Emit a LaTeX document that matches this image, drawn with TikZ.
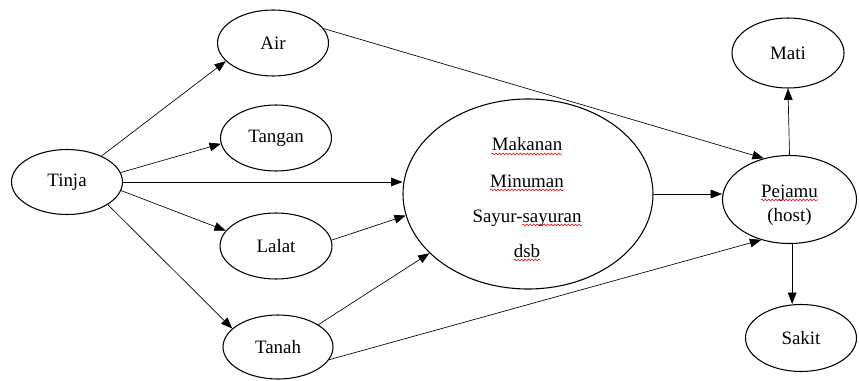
\documentclass[tikz,border=0pt]{standalone}
\usepackage{fontspec}
\setmainfont{Liberation Serif}
\usetikzlibrary{shapes.geometric,arrows.meta,decorations.pathmorphing}

\begin{document}
\begin{tikzpicture}[x=0.75pt,y=-0.75pt,
  every node/.style={font=\fontsize{14.2pt}{17pt}\selectfont},
  oval/.style={ellipse,draw,line width=0.8pt,inner sep=0pt},
  txt/.style={inner sep=0pt},
  link/.style={line width=0.5pt,-{Triangle[length=8.5pt,width=6.5pt]}},
  sq/.style={draw=red!85!black,line width=0.4pt,
    decorate,decoration={snake,segment length=2.6pt,amplitude=0.7pt}}]
\useasboundingbox (0,0) rectangle (859,381);

% source
\node[oval,minimum width=83.25pt,minimum height=48.75pt] (tinja) at (67,182) {Tinja};

% carriers
\node[oval,minimum width=83.25pt,minimum height=49.5pt] (air) at (273,43) {Air};
\node[oval,minimum width=83.25pt,minimum height=49.5pt] (tangan) at (276,138) {Tangan};
\node[oval,minimum width=84pt,minimum height=49.5pt] (lalat) at (276,246) {Lalat};
\node[oval,minimum width=82.5pt,minimum height=48pt] (tanah) at (278,347) {Tanah};

% food and drink
\node[oval,minimum width=187.5pt,minimum height=142.5pt] (big) at (528,194) {};
\node[txt,anchor=base] (mk) at (527,151) {Makanan};
\node[txt,anchor=base] (mn) at (527,187) {Minuman};
\node[txt,anchor=base] (sy) at (527,222) {Sayur-sayuran};
\node[txt,anchor=base east] (sz) at (sy.base east) {\phantom{sayuran}};
\node[txt,anchor=base] (ds) at (527,257) {dsb};

% host and outcomes
\node[oval,minimum width=100.5pt,minimum height=66pt] (pejamu) at (789.5,199.5) {};
\node[txt,anchor=base] (pj) at (789.5,197) {Pejamu};
\node[txt,anchor=base] (hs) at (789.5,221) {(host)};
\node[oval,minimum width=84pt,minimum height=52.5pt] (mati) at (788,53) {Mati};
\node[oval,minimum width=83.25pt,minimum height=50.25pt] (sakit) at (801,338) {Sakit};

% spelling marks
\foreach \n in {mk,mn,sz,ds,pj}
  \draw[sq] ([yshift=-2.2pt]\n.base west) -- ([yshift=-2.2pt]\n.base east);

% connectors
\draw[link] (tinja.37) -- (air.201);
\draw[link] (tinja.10) -- (tangan.186);
\draw[link] (tinja.east) -- (tinja.east -| big.west);
\draw[link] (tinja.-9) -- (lalat.163);
\draw[link] (tinja.-29) -- (tanah.158);
\draw[link] (air.16) -- (pejamu.122);
\draw[link] (lalat.6) -- (big.190.6);
\draw[link] (tanah.29) -- (big.211.5);
\draw[link] (tanah.-14) -- (pejamu.235);
\draw[link] (big.east) -- (big.east -| pejamu.west);
\draw[link] (pejamu.north) -- (mati.south);
\draw[link] ([xshift=2pt]pejamu.south) -- ([xshift=2pt]pejamu.south |- sakit.north);
\end{tikzpicture}
\end{document}
